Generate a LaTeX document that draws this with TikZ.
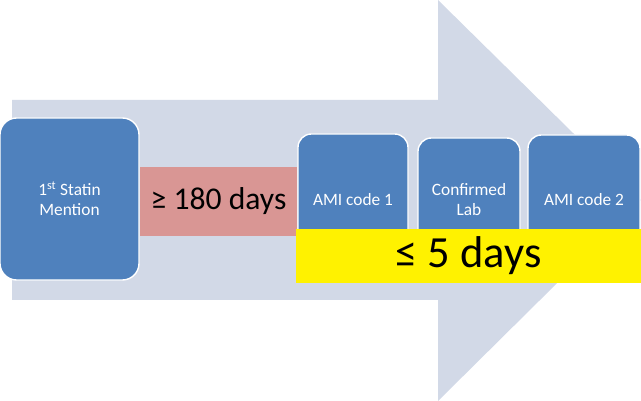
\documentclass[tikz,border=0pt]{standalone}
\usepackage{fontspec}
\setmainfont{Carlito}
\definecolor{shaft}{HTML}{D2D9E7}
\definecolor{stepblue}{HTML}{4F81BD}
\definecolor{gappink}{HTML}{D99694}
\tikzset{
  stepbox/.style={draw=white, line width=1.2pt, fill=stepblue, rounded corners=0.4cm,
    text=white, align=center, inner sep=0pt, font=\fontsize{14.8}{17}\selectfont},
  spanbox/.style={inner sep=0pt, text=black}
}
\begin{document}
\begin{tikzpicture}[x=0.03cm, y=-0.03cm]
    \useasboundingbox (0,0) rectangle (641,401);
    % big background arrow
    \fill [shaft] (12,100) -- (438,100) -- (438,0) -- (641,200) -- (438,401) -- (438,300) -- (12,300) -- cycle;

    \node [stepbox, minimum width=4.17cm, minimum height=4.86cm, rounded corners=0.5cm] (statin) at (69.5,199) {1\textsuperscript{st} Statin\\Mention};
    \node [spanbox, fill=gappink, minimum width=4.71cm, minimum height=2.07cm, font=\fontsize{27}{30}\selectfont] (gap) at (218.5,201.5) {≥ 180 days};

    \node [stepbox, minimum width=3.3cm, minimum height=3.96cm] (ami1) at (353,200) {AMI code 1};
    \node [stepbox, minimum width=3.06cm, minimum height=3.72cm] (lab) at (469,200) {Confirmed\\Lab};
    \node [stepbox, minimum width=3.36cm, minimum height=3.9cm] (ami2) at (584,200) {AMI code 2};

    \node [spanbox, fill=yellow, minimum width=10.35cm, minimum height=1.62cm, font=\fontsize{38}{40}\selectfont] (window) at (468.5,256) {≤ 5 days};
\end{tikzpicture}
\end{document}
